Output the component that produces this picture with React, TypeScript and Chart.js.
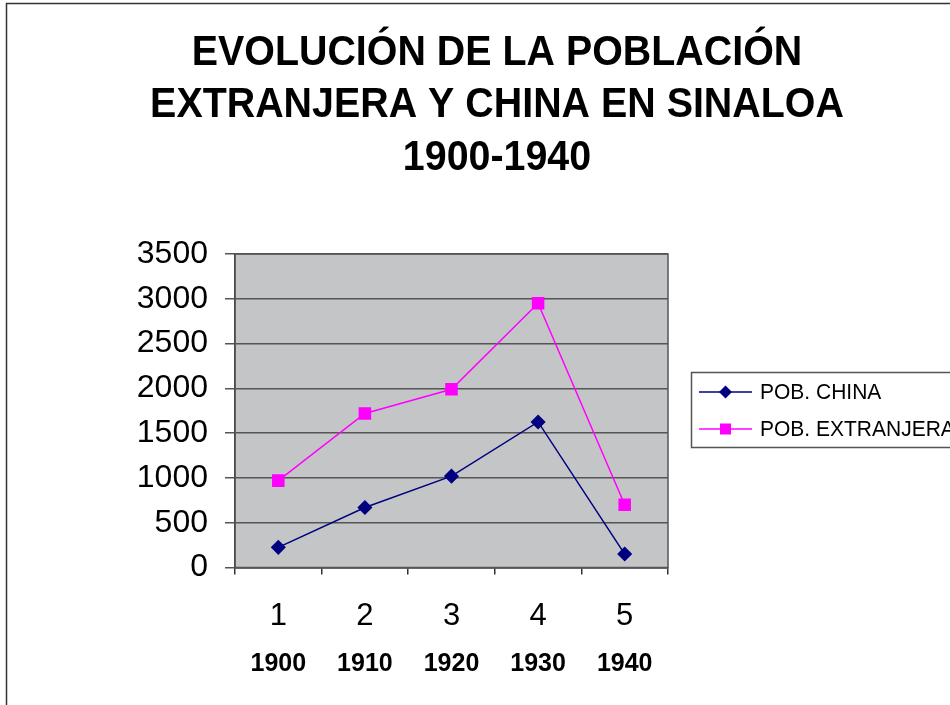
import React, { useEffect, useRef } from "react";
import { Chart, registerables } from "chart.js";

Chart.register(...registerables);

const categories = ["1", "2", "3", "4", "5"];
const years = ["1900", "1910", "1920", "1930", "1940"];
const chinaValues = [225, 670, 1020, 1625, 150];
const extranjeraValues = [970, 1720, 1990, 2950, 700];
const titleLines = ["EVOLUCIÓN DE LA POBLACIÓN", "EXTRANJERA Y CHINA EN SINALOA", "1900-1940"];
const seriesNames = ["POB. CHINA", "POB. EXTRANJERA"];

const FONT = 'Arial, "Liberation Sans", sans-serif';

const framePlugin = {
  id: "frame",
  beforeDraw(chart: any) {
    const { ctx, chartArea } = chart;
    ctx.save();
    ctx.fillStyle = "#ffffff";
    ctx.fillRect(0, 0, chart.width, chart.height);
    // outer frame
    ctx.strokeStyle = "#333333";
    ctx.lineWidth = 1.5;
    ctx.beginPath();
    ctx.moveTo(6.5, chart.height + 2);
    ctx.lineTo(6.5, 3.5);
    ctx.lineTo(chart.width + 2, 3.5);
    ctx.stroke();
    // plot background
    ctx.fillStyle = "#c4c5c7";
    ctx.fillRect(chartArea.left, chartArea.top, chartArea.right - chartArea.left, chartArea.bottom - chartArea.top);
    // title (slightly tall glyphs as in the reference)
    ctx.fillStyle = "#000000";
    ctx.font = `bold 39px ${FONT}`;
    ctx.textAlign = "center";
    ctx.textBaseline = "middle";
    titleLines.forEach((t, i) => {
      ctx.save();
      ctx.translate(497, 53 + i * 52.5);
      ctx.scale(1.01, 1.1);
      ctx.fillText(t, 0, 0);
      ctx.restore();
    });
    ctx.restore();
  },
  beforeDatasetsDraw(chart: any) {
    const { ctx, chartArea } = chart;
    ctx.save();
    ctx.strokeStyle = "#555555";
    ctx.lineWidth = 1.5;
    ctx.strokeRect(chartArea.left, chartArea.top, chartArea.right - chartArea.left, chartArea.bottom - chartArea.top);
    ctx.restore();
  },
  afterDraw(chart: any) {
    const { ctx } = chart;
    ctx.save();
    // legend box
    ctx.strokeStyle = "#555555";
    ctx.lineWidth = 1.5;
    ctx.beginPath();
    ctx.moveTo(chart.width + 5, 372.5);
    ctx.lineTo(691.5, 372.5);
    ctx.lineTo(691.5, 447.5);
    ctx.lineTo(chart.width + 5, 447.5);
    ctx.stroke();
    ctx.font = `21px ${FONT}`;
    ctx.textAlign = "left";
    ctx.textBaseline = "middle";
    chart.data.datasets.forEach((ds: any, i: number) => {
      const y = 392 + i * 37;
      ctx.strokeStyle = ds.borderColor;
      ctx.lineWidth = 1.5;
      ctx.beginPath();
      ctx.moveTo(699, y);
      ctx.lineTo(752, y);
      ctx.stroke();
      ctx.fillStyle = ds.pointBackgroundColor;
      ctx.beginPath();
      if (ds.pointStyle === "rectRot") {
        const r = 6.5;
        ctx.moveTo(725.5 - r, y);
        ctx.lineTo(725.5, y - r);
        ctx.lineTo(725.5 + r, y);
        ctx.lineTo(725.5, y + r);
        ctx.closePath();
      } else {
        ctx.rect(725.5 - 5.5, y - 5.5, 11, 11);
      }
      ctx.fill();
      ctx.fillStyle = "#000000";
      ctx.save();
      ctx.translate(760, y + 1);
      ctx.scale(1, 1.08);
      ctx.fillText(ds.label, 0, 0);
      ctx.restore();
    });
    ctx.restore();
  },
};

export default function App() {
  const ref = useRef<HTMLCanvasElement | null>(null);
  useEffect(() => {
    if (!ref.current) return;
    const chart = new Chart(ref.current, {
      type: "line",
      data: {
        labels: categories,
        datasets: [
          {
            label: seriesNames[0],
            data: chinaValues,
            borderColor: "#000080",
            backgroundColor: "#000080",
            pointBackgroundColor: "#000080",
            pointBorderColor: "#000080",
            pointStyle: "rectRot",
            pointRadius: 6.5,
            borderWidth: 1.5,
            tension: 0,
          },
          {
            label: seriesNames[1],
            data: extranjeraValues,
            borderColor: "#ff00ff",
            backgroundColor: "#ff00ff",
            pointBackgroundColor: "#ff00ff",
            pointBorderColor: "#ff00ff",
            pointStyle: "rect",
            pointRadius: 7.8,
            borderWidth: 1.5,
            tension: 0,
          },
        ],
      },
      options: {
        responsive: false,
        animation: false,
        layout: { padding: { top: 254, right: 282, bottom: 25.5, left: 0 } },
        plugins: {
          legend: { display: false },
          title: { display: false },
          tooltip: { enabled: false },
        },
        scales: {
          x: {
            type: "category",
            position: "bottom",
            offset: true,
            grid: {
              offset: true,
              drawOnChartArea: false,
              drawTicks: true,
              tickLength: 7,
              color: "#333333",
              lineWidth: 1.5,
            },
            border: { display: true, color: "#333333", width: 1.5 },
            ticks: {
              color: "#000000",
              font: { family: FONT, size: 31 },
              padding: 23,
              maxRotation: 0,
            },
            afterFit(scale: any) {
              scale.height = 72;
            },
          },
          x2: {
            type: "category",
            position: "bottom",
            labels: years,
            offset: true,
            grid: { display: false },
            border: { display: false },
            ticks: {
              color: "#000000",
              font: { family: FONT, size: 25, weight: "bold" },
              padding: 2,
              maxRotation: 0,
            },
            afterFit(scale: any) {
              scale.height = 40;
            },
          },
          y: {
            min: 0,
            max: 3500,
            ticks: {
              stepSize: 500,
              color: "#000000",
              font: { family: FONT, size: 32 },
              padding: 17,
              callback: (v: any) => String(v),
            },
            grid: {
              color: "#555555",
              lineWidth: 1.5,
              tickLength: 10,
              drawTicks: true,
            },
            border: { display: true, color: "#333333", width: 1.5 },
            afterFit(scale: any) {
              scale.width = 235;
            },
          },
        },
      },
      plugins: [framePlugin],
    } as any);
    return () => chart.destroy();
  }, []);
  return (
    <div style={{ position: "absolute", left: 0, top: 0, width: 950, height: 705 }}>
      <canvas ref={ref} width={950} height={705} />
    </div>
  );
}
